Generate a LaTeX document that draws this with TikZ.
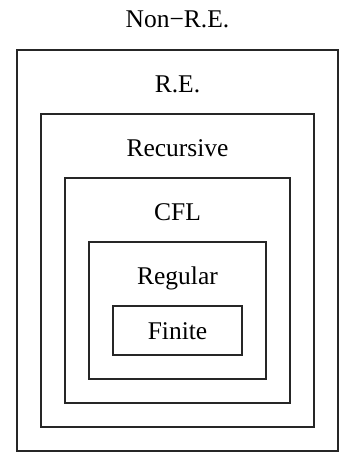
\documentclass[tikz,border=0pt]{standalone}
\usepackage{fontspec}
\setmainfont{Liberation Serif}
\begin{document}
\begin{tikzpicture}[x=1pt,y=1pt,
  setbox/.style={draw=black!85, line width=1.3pt, inner sep=0pt, fill=none},
  lbl/.style={anchor=base, inner sep=0pt, font=\fontsize{25.5}{28}\selectfont}]
\useasboundingbox (0,0) rectangle (339,454);
\node[setbox, minimum width=321pt, minimum height=401pt] (nonre) at (177.5,203.5) {};
\node[setbox, minimum width=273pt, minimum height=313pt] (re) at (177.5,183.5) {};
\node[setbox, minimum width=225pt, minimum height=225pt] (rec) at (177.5,163.5) {};
\node[setbox, minimum width=177pt, minimum height=137pt] (cfl) at (177.5,143.5) {};
\node[setbox, minimum width=129pt, minimum height=49pt] (fin) at (177.5,123.5) {};
\node[lbl] (tnonre) at (177.5,426.6) {Non−R.E.};
\node[lbl] (tre) at (177.5,361.6) {R.E.};
\node[lbl] (trec) at (177.5,297.6) {Recursive};
\node[lbl] (tcfl) at (177.5,233.6) {CFL};
\node[lbl] (treg) at (177.5,169.6) {Regular};
\node[lbl] (tfin) at (177.5,114.6) {Finite};
\end{tikzpicture}
\end{document}
